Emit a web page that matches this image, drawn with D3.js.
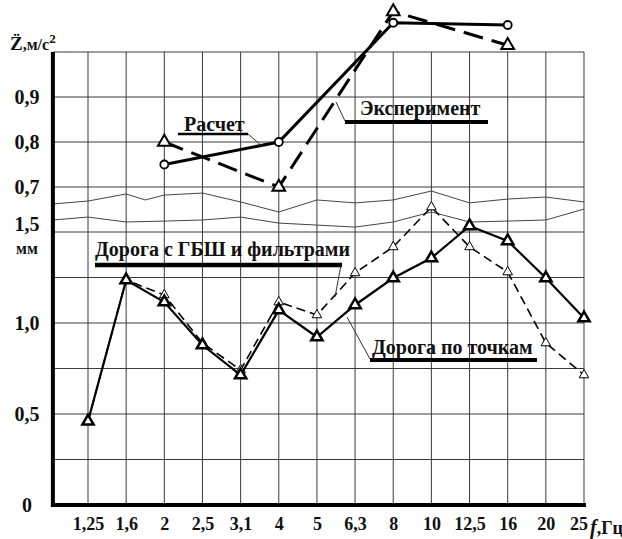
<!DOCTYPE html>
<html>
<head>
<meta charset="utf-8">
<script src="https://cdn.jsdelivr.net/npm/d3@7/dist/d3.min.js"></script>
<style>
  body { margin: 0; background: #fff; }
</style>
</head>
<body>
<script>
// frequencies, Hz
var freqs = ["1,25", "1,6", "2", "2,5", "3,1", "4", "5", "6,3", "8", "10", "12,5", "16", "20", "25"];

// upper part: acceleration, m/s^2
var accFreqs = ["2", "4", "8", "16"];
var calcValues = [0.75, 0.80, 1.065, 1.06];      // Расчет
var expValues = [0.80, 0.70, 1.09, 1.015];        // Эксперимент

// lower part: displacement, mm
var pointsValues = [0.46, 1.236, 1.115, 0.879, 0.714, 1.071, 0.923, 1.099, 1.247, 1.357, 1.533, 1.451, 1.247, 1.027]; // Дорога по точкам
var filterValues = [0.46, 1.236, 1.154, 0.89, 0.742, 1.115, 1.044, 1.275, 1.418, 1.637, 1.418, 1.28, 0.89, 0.714];    // Дорога с ГБШ и фильтрами

var accTicks = [0.7, 0.8, 0.9];
var accGrid = [0.7, 0.8, 0.9, 1.0];
var mmTicks = [0, 0.5, 1.0, 1.5];
var mmGrid = [0, 0.25, 0.5, 0.75, 1.0, 1.25, 1.5];

// axis break lines (index along x, value in mm)
var breakTop = [[-0.92, 1.654], [0, 1.670], [1, 1.709], [1.5, 1.676], [2, 1.703], [3, 1.714], [4, 1.665], [5, 1.610], [6, 1.676], [7, 1.660], [8, 1.676], [9, 1.725], [10, 1.660], [11, 1.681], [12, 1.692], [13, 1.665]];
var breakBottom = [[-0.92, 1.566], [0, 1.582], [1, 1.555], [2, 1.560], [3, 1.566], [4, 1.582], [5, 1.549], [6, 1.538], [7, 1.527], [8, 1.555], [9, 1.610], [10, 1.555], [11, 1.560], [12, 1.566], [13, 1.626]];

var FONT = "'Liberation Serif', 'Times New Roman', serif";

var svgWidth = 622, svgHeight = 539;
var svg = d3.select("body").append("svg")
  .attr("width", svgWidth).attr("height", svgHeight);

var x = d3.scalePoint().domain(freqs).range([88, 584]);
var xIdx = d3.scaleLinear().domain([0, freqs.length - 1]).range([88, 584]);
var left = xIdx(-0.92), right = 584;

var yAcc = d3.scaleLinear().domain([0.7, 1.0]).range([187, 52]);
var yMm = d3.scaleLinear().domain([0, 1.5]).range([505, 232]);

// grid
var grid = svg.append("g").attr("stroke", "#3a3a3a").attr("stroke-width", 1);
grid.selectAll(".v").data(freqs).enter().append("line")
  .attr("x1", d => x(d)).attr("x2", d => x(d))
  .attr("y1", yAcc(1.0)).attr("y2", yMm(0));
grid.selectAll(".ha").data(accGrid).enter().append("line")
  .attr("x1", left).attr("x2", right)
  .attr("y1", d => yAcc(d)).attr("y2", d => yAcc(d));
grid.selectAll(".hm").data(mmGrid).enter().append("line")
  .attr("x1", left).attr("x2", right)
  .attr("y1", d => yMm(d)).attr("y2", d => yMm(d));

// break lines
var breakLine = d3.line().x(d => xIdx(d[0])).y(d => yMm(d[1]));
svg.append("path").attr("d", breakLine(breakTop))
  .attr("fill", "none").attr("stroke", "#444").attr("stroke-width", 1);
svg.append("path").attr("d", breakLine(breakBottom))
  .attr("fill", "none").attr("stroke", "#444").attr("stroke-width", 1);

// main axes lines
svg.append("line").attr("x1", left).attr("x2", left)
  .attr("y1", yAcc(1.0)).attr("y2", yMm(0) + 2)
  .attr("stroke", "#000").attr("stroke-width", 4);
svg.append("line").attr("x1", left - 2).attr("x2", right + 2)
  .attr("y1", yMm(0)).attr("y2", yMm(0))
  .attr("stroke", "#000").attr("stroke-width", 4);

// tick labels via axes
function fmt(d) { return d === 0 ? "0" : d3.format(".1f")(d).replace(".", ","); }
var accAxis = svg.append("g").attr("transform", `translate(${left},0)`)
  .call(d3.axisLeft(yAcc).tickValues(accTicks).tickSize(0).tickFormat(fmt));
var mmAxis = svg.append("g").attr("transform", `translate(${left},0)`)
  .call(d3.axisLeft(yMm).tickValues(mmTicks).tickSize(0).tickFormat(fmt));
[accAxis, mmAxis].forEach(function(g) {
  g.select(".domain").remove();
  g.selectAll("text").attr("x", 27 - left).attr("text-anchor", "middle")
    .style("font-size", "20px");
});
mmAxis.selectAll("text").filter(d => d === 1.5).attr("dy", "-0.1em");

var xAxis = svg.append("g").attr("transform", `translate(0,${yMm(0)})`)
  .call(d3.axisBottom(x).tickSize(0).tickPadding(12));
xAxis.select(".domain").remove();
xAxis.selectAll("text").style("font-size", "18px");
xAxis.selectAll("text").filter(d => d === "25").attr("dx", "-0.3em");

// axis units
var yl = svg.append("text").attr("x", 10).attr("y", 50).style("font-size", "16px");
yl.append("tspan").text("Z\u0308").style("font-size", "19px");
yl.append("tspan").text(",м/с");
yl.append("tspan").text("2").attr("dy", -7).style("font-size", "13px");
svg.append("text").attr("x", 27).attr("y", 254).attr("text-anchor", "middle")
  .style("font-size", "16px").text("мм");
var xl = svg.append("text").attr("x", 590).attr("y", yMm(0) + 29).style("font-size", "18px");
xl.append("tspan").text("f").style("font-style", "italic").style("font-size", "20px");
xl.append("tspan").text(",Гц");

// series
var tri = d3.symbol().type(d3.symbolTriangle);

function drawSeries(cats, vals, yScale, opt) {
  var pts = cats.map((c, i) => [x(c), yScale(vals[i])]);
  svg.append("path").attr("d", d3.line()(pts))
    .attr("fill", "none").attr("stroke", "#000")
    .attr("stroke-width", opt.width)
    .attr("stroke-dasharray", opt.dash || null);
  var g = svg.append("g");
  pts.forEach(function(p) {
    if (opt.marker === "circle") {
      g.append("circle").attr("cx", p[0]).attr("cy", p[1]).attr("r", opt.size)
        .attr("fill", "#fff").attr("stroke", "#000").attr("stroke-width", opt.mw);
    } else {
      g.append("path").attr("d", tri.size(opt.size)())
        .attr("transform", `translate(${p[0]},${p[1]})`)
        .attr("fill", "#fff").attr("stroke", "#000").attr("stroke-width", opt.mw);
    }
  });
}

drawSeries(freqs, filterValues, yMm, { width: 1.6, dash: "9,5", marker: "tri", size: 40, mw: 1 });
drawSeries(freqs, pointsValues, yMm, { width: 2.2, marker: "tri", size: 55, mw: 2.5 });
drawSeries(accFreqs, expValues, yAcc, { width: 3, dash: "20,9", marker: "tri", size: 70, mw: 2 });
drawSeries(accFreqs, calcValues, yAcc, { width: 3, marker: "circle", size: 4, mw: 1.8 });

// annotations
function note(txt, tx, ty, ux1, ux2, uy, uw, lx, ly, lx2, ly2) {
  svg.append("text").attr("x", tx).attr("y", ty).style("font-size", "20px").text(txt);
  svg.append("line").attr("x1", ux1).attr("x2", ux2).attr("y1", uy).attr("y2", uy)
    .attr("stroke", "#000").attr("stroke-width", uw);
  svg.append("line").attr("x1", lx).attr("y1", ly).attr("x2", lx2).attr("y2", ly2)
    .attr("stroke", "#333").attr("stroke-width", 1);
}
note("Расчет", 184, 131, 178, 248, 134, 2.5, 248, 134, 262, 146);
note("Эксперимент", 360, 115, 345, 488, 122, 4, 345, 121, 336, 102);
note("Дорога с ГБШ и фильтрами", 95, 256, 95, 342, 265, 4.5, 341, 265, 335, 297);
note("Дорога по точкам", 372, 354, 370, 537, 360, 4, 370, 359, 347, 317);

// serif bold for all texts
svg.selectAll("g").attr("font-family", null).attr("font-size", null);
svg.selectAll("text")
  .style("font-family", FONT)
  .style("font-weight", "bold")
  .attr("fill", "#111");
</script>
</body>
</html>
